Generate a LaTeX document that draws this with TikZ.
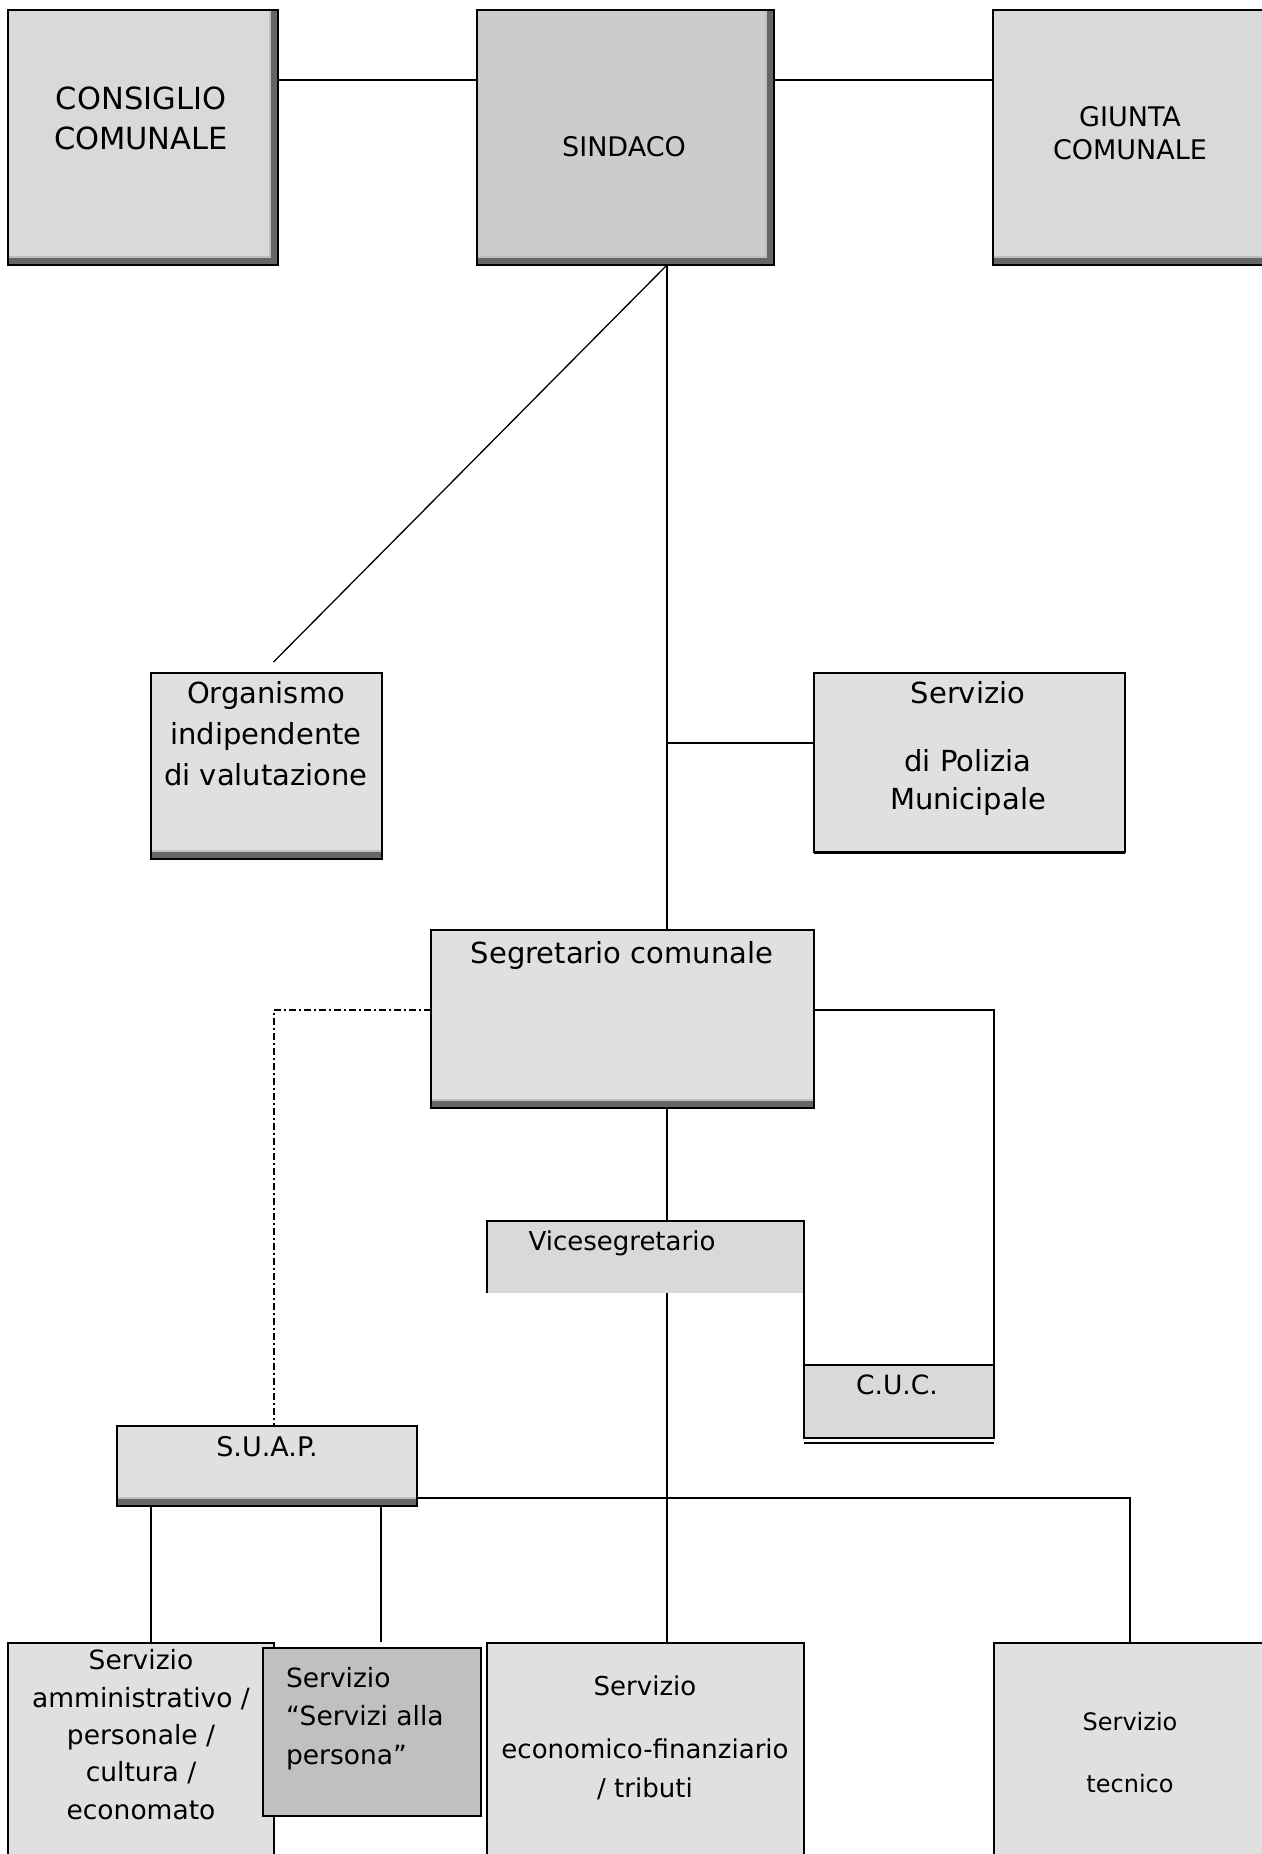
\documentclass[tikz,border=0pt]{standalone}
\usepackage{fontspec}
\setmainfont{DejaVu Sans}
\usepackage{tikz}
\definecolor{boxgray}{RGB}{224,224,224}
\definecolor{topgray}{RGB}{217,217,217}
\definecolor{headgray}{RGB}{204,204,204}
\definecolor{personagray}{RGB}{192,192,192}
\definecolor{shadowdark}{RGB}{102,102,102}
\definecolor{shadowlight}{RGB}{191,191,191}
\newcommand{\txtsize}[2]{\fontsize{#1}{#2}\selectfont}

\begin{document}
\begin{tikzpicture}[
    x=1pt, y=-1pt,
    line width=2pt,
    box/.style={draw, fill=boxgray, rectangle, anchor=north west, inner sep=0pt, outer sep=0pt},
    shadowb/.style={path picture={
        \fill[shadowlight] ([yshift=9pt]path picture bounding box.south west) rectangle (path picture bounding box.south east);
        \fill[shadowdark] ([yshift=7pt]path picture bounding box.south west) rectangle (path picture bounding box.south east);}},
    shadowbr/.style={path picture={
        \fill[shadowlight] ([yshift=9pt]path picture bounding box.south west) rectangle (path picture bounding box.south east);
        \fill[shadowlight] ([xshift=-9pt]path picture bounding box.north east) rectangle (path picture bounding box.south east);
        \fill[shadowdark] ([yshift=7pt]path picture bounding box.south west) rectangle (path picture bounding box.south east);
        \fill[shadowdark] ([xshift=-7pt]path picture bounding box.north east) rectangle (path picture bounding box.south east);}},
    lbl/.style={inner sep=0pt, anchor=base, align=center},
    suaplink/.style={line width=1.5pt, dash pattern=on 7pt off 3pt on 2pt off 3pt}
]
\useasboundingbox (0,0) rectangle (1261,1854);

% Top row (labels placed at the baseline of their last line)
\node[box, fill=topgray, shadowbr, minimum width=270pt, minimum height=255pt] (cons) at (8,10) {};
\node[box, fill=headgray, shadowbr, minimum width=297pt, minimum height=255pt] (sind) at (477,10) {};
\node[box, fill=topgray, shadowb, minimum width=282pt, minimum height=255pt] (giun) at (993,10) {};
\node[lbl, font=\txtsize{30.5}{40}] (consl) at (141,150) {CONSIGLIO\\COMUNALE};
\node[lbl, font=\txtsize{27}{33}] (sindl) at (624,157) {SINDACO};
\node[lbl, font=\txtsize{27}{33}] (giunl) at (1130,160) {GIUNTA\\COMUNALE};

% Staff of the mayor
\node[box, shadowb, minimum width=231pt, minimum height=186pt] (oiv) at (151,673) {};
\node[box, minimum width=311pt, minimum height=179pt] (pol) at (814,673) {};
\node[lbl, font=\txtsize{29}{41}] (oivl) at (266,785) {Organismo\\indipendente\\di valutazione};
\node[lbl, font=\txtsize{29}{38}] (poll) at (968,809) {Servizio\\[30pt]di Polizia\\Municipale};

% Secretary
\node[box, shadowb, minimum width=383pt, minimum height=178pt] (seg) at (431,930) {};
\node[lbl, font=\txtsize{29}{38}] (segl) at (622,963) {Segretario comunale};
\node[box, fill=topgray, draw=none, minimum width=317pt, minimum height=72pt] (vice) at (487,1221) {};
\node[lbl, font=\txtsize{26}{33}] (vicel) at (622,1250) {Vicesegretario};
\node[box, fill=topgray, minimum width=190pt, minimum height=73pt] (cuc) at (804,1365) {};
\node[lbl, font=\txtsize{26.5}{33}] (cucl) at (897,1394) {C.U.C.};
\node[box, shadowb, minimum width=300pt, minimum height=80pt] (suap) at (117,1426) {};
\node[lbl, font=\txtsize{27}{33}] (suapl) at (267,1456) {S.U.A.P.};

% Services
\node[box, minimum width=266pt, minimum height=260pt] (amm) at (8,1643) {};
\node[box, fill=personagray, minimum width=218pt, minimum height=168pt] (pers) at (263,1648) {};
\node[box, minimum width=317pt, minimum height=260pt] (econ) at (487,1643) {};
\node[box, minimum width=272pt, minimum height=260pt] (tecn) at (994,1643) {};
\node[lbl, font=\txtsize{26.5}{37.3}] (amml) at (141,1819) {Servizio\\amministrativo /\\personale /\\cultura /\\economato};
\node[lbl, anchor=base west, align=left, font=\txtsize{26.5}{38.5}] (persl) at (285,1764) {Servizio\\“Servizi alla\\persona”};
\node[lbl, font=\txtsize{26}{39}] (econl) at (645,1797) {Servizio\\[24pt]economico-finanziario\\/ tributi};
\node[lbl, font=\txtsize{24}{62}] (tecnl) at (1130,1792) {Servizio\\tecnico};

% Connectors
\coordinate (spine) at (667,0);
\draw ([yshift=-70pt]cons.north east) -- ([yshift=-70pt]sind.north west);
\draw ([yshift=-70pt]sind.north east) -- ([yshift=-70pt]giun.north west);
\draw (sind.south -| spine) -- (seg.north -| spine);
\draw[line width=1.3pt] (sind.south -| spine) -- ([xshift=7pt,yshift=11pt]oiv.north);
\coordinate (polin) at ([yshift=20pt]pol.west);
\draw (polin) -- (polin -| spine);
\draw[line width=3pt] (pol.south west) -- (pol.south east);
\draw[suaplink] ([yshift=9pt]seg.west) -| ([xshift=7pt]suap.north);
\draw ([yshift=9pt]seg.east) -| (cuc.north east);
\draw (seg.south -| spine) -- (vice.north -| spine);
\draw (vice.south west) -- (vice.north west) -- (vice.north east) -- (vice.south east) -- (cuc.north west);
\draw ([yshift=-5pt]cuc.south west) -- ([yshift=-5pt]cuc.south east);
\draw (vice.south -| spine) -- (econ.north -| spine);
\draw ([yshift=8pt]suap.south east) -| (tecn.north);
\coordinate (ammtop) at ([xshift=10pt]amm.north);
\draw (ammtop |- suap.south) -- (ammtop);
\coordinate (perstop) at ([xshift=9pt,yshift=6pt]pers.north);
\draw (perstop |- suap.south) -- (perstop);

\end{tikzpicture}
\end{document}
